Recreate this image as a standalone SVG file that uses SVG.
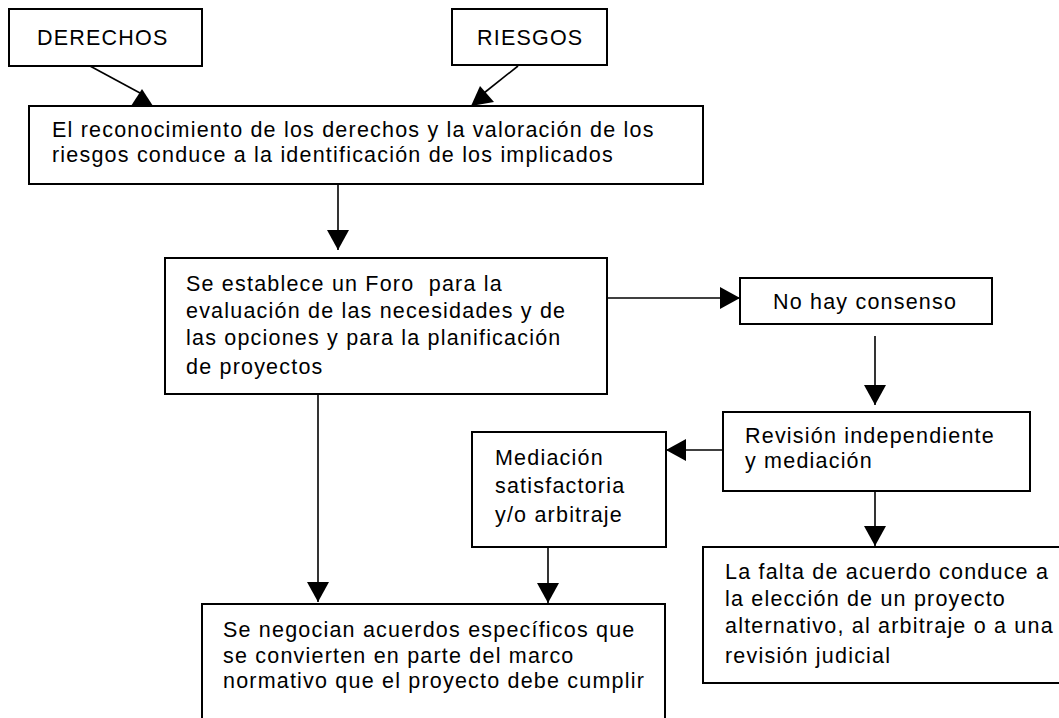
<svg xmlns="http://www.w3.org/2000/svg" width="1059" height="718" viewBox="0 0 1059 718">
<style>
.box{fill:#fff;stroke:#000;stroke-width:2}
.t{font-family:"Liberation Sans",Arial,sans-serif;font-size:21.5px;letter-spacing:1.2px;fill:#000}
.c{fill:none;stroke:#000;stroke-width:1.6}
.h{fill:#000;stroke:none}
</style>
<defs>
<marker id="arr" markerUnits="userSpaceOnUse" viewBox="0 0 20 22" refX="20" refY="11" markerWidth="20" markerHeight="22" orient="auto">
<path d="M0,0 L20,11 L0,22 Z" fill="#000"/>
</marker>
</defs>
<rect width="1059" height="718" fill="#fff"/>
<g id="connectors">
<line class="c" x1="90" y1="66" x2="140" y2="93"/>
<polygon class="h" points="142,89 131,106 153,106"/>
<line class="c" x1="518" y1="66" x2="484" y2="93"/>
<polygon class="h" points="480,86 471,106 494,102"/>
<line class="c" x1="338" y1="184" x2="338" y2="250" marker-end="url(#arr)"/>
<line class="c" x1="607" y1="298" x2="740" y2="298" marker-end="url(#arr)"/>
<line class="c" x1="875" y1="336" x2="875" y2="405" marker-end="url(#arr)"/>
<line class="c" x1="723" y1="450" x2="666" y2="450" marker-end="url(#arr)"/>
<line class="c" x1="875" y1="491" x2="875" y2="546" marker-end="url(#arr)"/>
<line class="c" x1="548" y1="547" x2="548" y2="603" marker-end="url(#arr)"/>
<line class="c" x1="318" y1="394" x2="318" y2="602" marker-end="url(#arr)"/>
</g>
<g id="derechos">
<rect class="box" x="9" y="9" width="193" height="57"/>
<text class="t" x="37" y="45">DERECHOS</text>
</g>
<g id="riesgos">
<rect class="box" x="452" y="9" width="155" height="56"/>
<text class="t" x="477" y="45">RIESGOS</text>
</g>
<g id="reconocimiento">
<rect class="box" x="29" y="106" width="674" height="78"/>
<text class="t" x="52" y="137">El reconocimiento de los derechos y la valoración de los</text>
<text class="t" x="52" y="162">riesgos conduce a la identificación de los implicados</text>
</g>
<g id="foro">
<rect class="box" x="165" y="258" width="442" height="136"/>
<text class="t" x="186" y="291" xml:space="preserve">Se establece un Foro  para la</text>
<text class="t" x="186" y="318">evaluación de las necesidades y de</text>
<text class="t" x="186" y="345">las opciones y para la planificación</text>
<text class="t" x="186" y="374">de proyectos</text>
</g>
<g id="no-consenso">
<rect class="box" x="740" y="278" width="252" height="46"/>
<text class="t" x="773" y="309">No hay consenso</text>
</g>
<g id="revision">
<rect class="box" x="723" y="412" width="307" height="79"/>
<text class="t" x="745" y="443">Revisión independiente</text>
<text class="t" x="745" y="468">y mediación</text>
</g>
<g id="mediacion">
<rect class="box" x="472" y="432" width="194" height="115"/>
<text class="t" x="495" y="465">Mediación</text>
<text class="t" x="495" y="493">satisfactoria</text>
<text class="t" x="495" y="522">y/o arbitraje</text>
</g>
<g id="acuerdos">
<rect class="box" x="202" y="604" width="463" height="130"/>
<text class="t" x="223" y="637">Se negocian acuerdos específicos que</text>
<text class="t" x="223" y="663">se convierten en parte del marco</text>
<text class="t" x="223" y="688">normativo que el proyecto debe cumplir</text>
</g>
<g id="falta-acuerdo">
<rect class="box" x="703" y="547" width="370" height="136"/>
<text class="t" x="725" y="579">La falta de acuerdo conduce a</text>
<text class="t" x="725" y="606">la elección de un proyecto</text>
<text class="t" x="725" y="633">alternativo, al arbitraje o a una</text>
<text class="t" x="725" y="663">revisión judicial</text>
</g>
</svg>
